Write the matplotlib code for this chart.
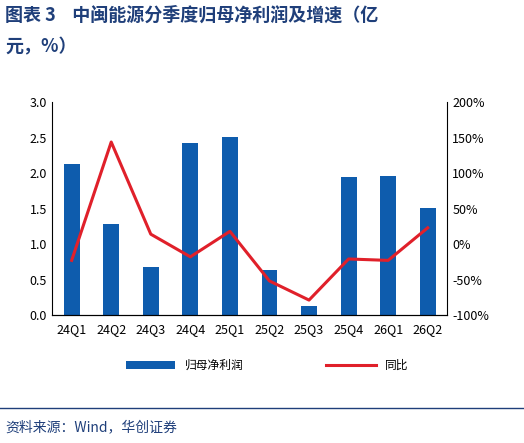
import matplotlib.pyplot as plt
from matplotlib.ticker import FuncFormatter

plt.rcParams['font.family'] = ['Noto Sans CJK SC', 'DejaVu Sans']

quarters = ["24Q1", "24Q2", "24Q3", "24Q4", "25Q1", "25Q2", "25Q3", "25Q4", "26Q1", "26Q2"]
profit = [2.13, 1.29, 0.67, 2.42, 2.51, 0.64, 0.13, 1.94, 1.96, 1.51]
yoy = [-23, 144, 14, -18, 18, -52, -79, -21, -23, 23]

BLUE = "#0e5cad"
RED = "#e0202a"
TITLE = "#1f3f7a"

fig = plt.figure(figsize=(5.24, 4.43), dpi=100)
ax = fig.add_axes([0.099, 0.289, 0.755, 0.48])
x = range(len(quarters))
bars = ax.bar(x, profit, width=0.4, color=BLUE, label="归母净利润")
ax.set_ylim(0, 3.0)
ax.set_yticks([0, 0.5, 1.0, 1.5, 2.0, 2.5, 3.0])
ax.yaxis.set_major_formatter(FuncFormatter(lambda v, p: f"{v:.1f}"))
ax.set_xticks(list(x))
ax.set_xticklabels(quarters)
ax.set_xlim(-0.5, len(quarters) - 0.5)
ax.tick_params(labelsize=9, length=0)
ax.tick_params(axis="x", pad=6)
for s in ("top", "right"):
    ax.spines[s].set_visible(False)

ax2 = ax.twinx()
line, = ax2.plot(x, yoy, color=RED, linewidth=2.2, label="同比")
ax2.set_ylim(-100, 200)
ax2.set_yticks(range(-100, 201, 50))
ax2.yaxis.set_major_formatter(FuncFormatter(lambda v, p: f"{v:.0f}%"))
ax2.tick_params(labelsize=9, length=0)
for s in ("top", "left"):
    ax2.spines[s].set_visible(False)

fig.legend([bars, line], ["归母净利润", "同比"], loc="center", bbox_to_anchor=(0.51, 0.175),
           ncol=2, frameon=False, fontsize=8.5, handlelength=4.2, columnspacing=7)

fig.text(0.01, 0.965, "图表 3    中闽能源分季度归母净利润及增速（亿", fontsize=13,
         fontweight="bold", color=TITLE, va="center")
fig.text(0.01, 0.895, "元，%）", fontsize=13, fontweight="bold", color=TITLE, va="center")
fig.add_artist(plt.Line2D([0.0, 1.0], [0.08, 0.08], color=TITLE, linewidth=1))
fig.text(0.01, 0.035, "资料来源：Wind，华创证券", fontsize=10, style="italic",
         color=TITLE, va="center")

fig.savefig("out.png", dpi=100)
